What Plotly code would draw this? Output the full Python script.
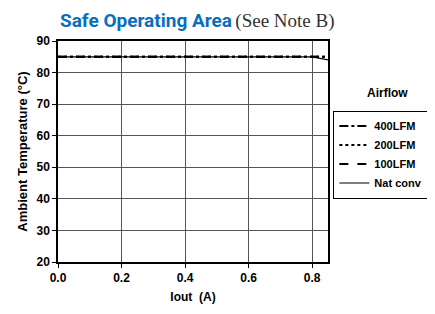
import plotly.graph_objects as go

iout = [0.0, 0.2, 0.4, 0.6, 0.8, 0.85]
t_400 = [85, 85, 85, 85, 85, 85]
t_200 = [85, 85, 85, 85, 85, 85]
t_100 = [85, 85, 85, 85, 85, 85]
t_nat = [85, 85, 85, 85, 85, 84]
series = [("400LFM", t_400, "dashdot", 2), ("200LFM", t_200, "dot", 2),
          ("100LFM", t_100, "dash", 2), ("Nat conv", t_nat, "solid", 1.2)]

fig = go.Figure()
for name, ys, dash, w in series:
    fig.add_trace(go.Scatter(x=iout, y=ys, mode="lines", name=name,
                             line=dict(color="black", dash=dash, width=w)))

font = dict(family="Liberation Sans, Arial, sans-serif", size=12, color="black")
fig.update_layout(
    width=427, height=306,
    margin=dict(l=50, r=107, t=33, b=52, autoexpand=False),
    paper_bgcolor="white", plot_bgcolor="white",
    font=font,
    showlegend=True,
    legend=dict(xref="container", yref="container", x=0.762, y=0.665,
                xanchor="left", yanchor="top",
                bordercolor="black", borderwidth=1, bgcolor="white",
                font=dict(family="Liberation Sans, Arial", size=11, color="black", weight="bold"),
                tracegroupgap=0, itemwidth=30),
    xaxis=dict(range=[0, 0.85], tickvals=[0, 0.2, 0.4, 0.6, 0.8],
               ticktext=["0.0", "0.2", "0.4", "0.6", "0.8"], automargin=False,
               showgrid=True, gridcolor="#555555", gridwidth=1,
               showline=True, linecolor="black", linewidth=2, mirror=True,
               ticks="outside", ticklen=4, tickcolor="black",
               tickfont=dict(size=12, weight="bold"), zeroline=False,
               title=dict(text="Iout  (A)", font=dict(size=12, weight="bold"), standoff=8)),
    yaxis=dict(range=[20, 90], tickvals=[20, 30, 40, 50, 60, 70, 80, 90], automargin=False,
               showgrid=True, gridcolor="#555555", gridwidth=1,
               showline=True, linecolor="black", linewidth=1.5, mirror=True,
               ticks="outside", ticklen=4, tickcolor="black",
               tickfont=dict(size=12, weight="bold"), zeroline=False,
               title=dict(text="Ambient Temperature (°C)", font=dict(size=13, weight="bold"), standoff=6)),
    annotations=[
        dict(xref="paper", yref="paper", x=0, y=1.0, yshift=21, xanchor="left", yanchor="middle",
             showarrow=False,
             text="<span style='font-family:Liberation Sans Narrow, Arial Narrow, Roboto, sans-serif;font-weight:bold;color:#0a6ebd;font-size:19px'>Safe Operating Area</span>"
                  " <span style='font-family:Liberation Serif, Times New Roman, serif;color:#333333;font-size:19px'>(See Note B)</span>"),
        dict(xref="paper", yref="paper", x=1.222, y=0.765, xanchor="center", yanchor="middle",
             showarrow=False, text="<b>Airflow</b>", font=dict(size=12)),
    ],
)
fig.write_html("out.html")
